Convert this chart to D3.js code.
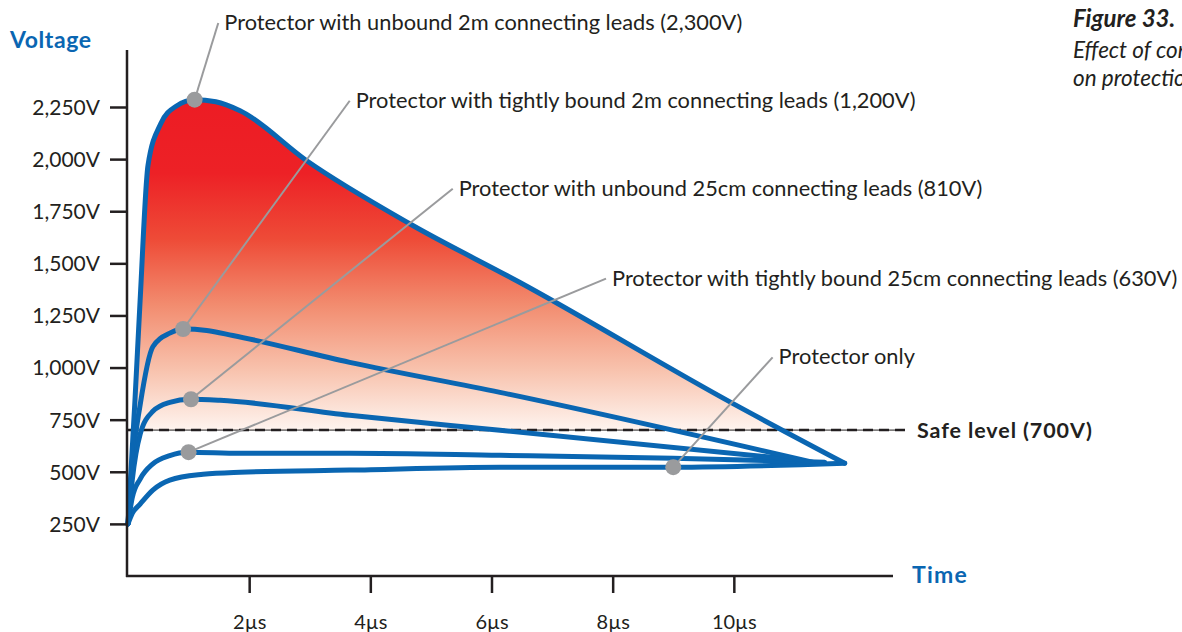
<!DOCTYPE html>
<html>
<head>
<meta charset="utf-8">
<script src="https://cdn.jsdelivr.net/npm/d3@7"></script>
<style>
  body { margin: 0; background: #fff; }
  svg text { font-family: Lato, "Open Sans", sans-serif; fill: #231f20; }
</style>
</head>
<body>
<div id="chart"></div>
<script>
// Values (time in µs, voltage in V)
const unbound2m = [[0, 250], [0.115, 843], [0.2, 1322], [0.33, 1970], [0.54, 2170], [0.8, 2255], [1.1, 2285], [1.45, 2275], [1.85, 2232], [2.95, 1992], [4.65, 1690], [6.47, 1408], [9.98, 828], [11.83, 541]];
const tight2m = [[0, 250], [0.07, 540], [0.2, 820], [0.41, 1100], [0.69, 1165], [0.91, 1185], [1.3, 1178], [1.73, 1154], [3.66, 1025], [6.14, 881], [11.3, 546]];
const unbound25 = [[0, 250], [0.07, 460], [0.2, 680], [0.41, 790], [0.69, 833], [1.02, 848], [1.52, 843], [3.66, 771], [6.14, 699], [11.1, 556]];
const tight25 = [[0, 250], [0.07, 375], [0.2, 465], [0.41, 538], [0.69, 578], [0.99, 594], [1.85, 589], [3.66, 589], [6.14, 579], [9.0, 565], [11.5, 546]];
const protectorOnly = [[0, 250], [0.07, 300], [0.2, 345], [0.41, 412], [0.69, 460], [1.24, 488], [1.85, 498], [3.66, 508], [6.14, 522], [9.0, 522], [11.83, 541]];
const series = [unbound2m, tight2m, unbound25, tight25, protectorOnly];

const safeLevel = 700;
const yTicks = [250, 500, 750, 1000, 1250, 1500, 1750, 2000, 2250];
const xTicks = [2, 4, 6, 8, 10];

// annotation: dot on the curve, end of leader, label
const notes = [
  { dot: [1.1, 2285], end: [1.49, 2653], text: "Protector with unbound 2m connecting leads (2,300V)" },
  { dot: [0.91, 1185], end: [3.66, 2280], text: "Protector with tightly bound 2m connecting leads (1,200V)" },
  { dot: [1.04, 848], end: [5.36, 1858], text: "Protector with unbound 25cm connecting leads (810V)" },
  { dot: [1.0, 594], end: [7.89, 1427], text: "Protector with tightly bound 25cm connecting leads (630V)" },
  { dot: [9.0, 522], end: [10.64, 1049], text: "Protector only" }
];

const width = 1182;
const height = 632;
const blue = "#0a66b2";

const x = d3.scaleLinear().domain([0, 12]).range([128, 855]);
const y = d3.scaleLinear().domain([0, 2250]).range([576, 107]);

const svg = d3.select("#chart")
  .append("svg")
  .attr("width", width)
  .attr("height", height)
  .attr("viewBox", [0, 0, width, height]);

// gradient fill above safe level
const defs = svg.append("defs");
const grad = defs.append("linearGradient")
  .attr("id", "redfade")
  .attr("gradientUnits", "userSpaceOnUse")
  .attr("x1", 0).attr("x2", 0)
  .attr("y1", y(2280)).attr("y2", y(safeLevel));
[[0, "#ed1c24"], [0.22, "#ed2126"], [0.42, "#ee4b37"], [0.62, "#f28c6f"], [0.82, "#f8c3ae"], [1, "#fef4ef"]]
  .forEach(([o, c]) => grad.append("stop").attr("offset", o).attr("stop-color", c));

defs.append("clipPath").attr("id", "aboveSafe")
  .append("rect")
  .attr("x", 0).attr("y", 0)
  .attr("width", width).attr("height", y(safeLevel));

const area = d3.area()
  .x(d => x(d[0]))
  .y0(y(safeLevel))
  .y1(d => y(d[1]))
  .curve(d3.curveMonotoneX);

svg.append("path")
  .datum(unbound2m)
  .attr("clip-path", "url(#aboveSafe)")
  .attr("fill", "url(#redfade)")
  .attr("d", area);

// safe level line
svg.append("line")
  .attr("x1", 127).attr("x2", 905)
  .attr("y1", y(safeLevel)).attr("y2", y(safeLevel))
  .attr("stroke", "#231f20").attr("stroke-width", 1);
svg.append("line")
  .attr("x1", 127).attr("x2", 905)
  .attr("y1", y(safeLevel)).attr("y2", y(safeLevel))
  .attr("stroke", "#231f20").attr("stroke-width", 2.5)
  .attr("stroke-dasharray", "10,6");
svg.append("text")
  .attr("x", 917).attr("y", y(safeLevel) + 8)
  .style("font-size", "21.5px").style("font-weight", "bold")
  .style("letter-spacing", "0.9px")
  .text("Safe level (700V)");

// curves
const line = d3.line()
  .x(d => x(d[0]))
  .y(d => y(d[1]))
  .curve(d3.curveMonotoneX);

svg.append("g")
  .attr("fill", "none")
  .attr("stroke", blue)
  .attr("stroke-width", 5)
  .attr("stroke-linejoin", "round")
  .attr("stroke-linecap", "round")
  .selectAll("path")
  .data(series.slice().reverse())
  .join("path")
  .attr("d", line);

// axes
const axisColor = "#231f20";
svg.append("line")
  .attr("x1", 127).attr("x2", 127)
  .attr("y1", 50).attr("y2", 577)
  .attr("stroke", axisColor).attr("stroke-width", 2.5);
svg.append("line")
  .attr("x1", 126).attr("x2", 893)
  .attr("y1", 576).attr("y2", 576)
  .attr("stroke", axisColor).attr("stroke-width", 2.5);

const yAxis = svg.append("g")
  .attr("transform", "translate(127,0)")
  .call(d3.axisLeft(y).tickValues(yTicks).tickSize(17).tickPadding(10)
    .tickFormat(d => d3.format(",")(d) + "V"));
yAxis.select(".domain").remove();
yAxis.selectAll(".tick line").attr("stroke", axisColor).attr("stroke-width", 2.5);
yAxis.selectAll(".tick text")
  .attr("dy", "0.35em")
  .style("font-size", "21px")
  .style("font-family", "Lato, sans-serif")
  .attr("fill", axisColor);

const xAxis = svg.append("g")
  .attr("transform", "translate(0,576)")
  .call(d3.axisBottom(x).tickValues(xTicks).tickSize(17).tickPadding(22)
    .tickFormat(d => d + "µs"));
xAxis.select(".domain").remove();
xAxis.selectAll(".tick line").attr("stroke", axisColor).attr("stroke-width", 2.5);
xAxis.selectAll(".tick text")
  .style("font-size", "20px")
  .style("font-family", "Lato, sans-serif")
  .attr("fill", axisColor);

svg.append("text")
  .attr("x", 10).attr("y", 48)
  .style("font-size", "23px").style("font-weight", "bold")
  .style("letter-spacing", "0.6px")
  .style("fill", blue)
  .text("Voltage");
svg.append("text")
  .attr("x", 912).attr("y", 583)
  .style("font-size", "23px").style("font-weight", "bold")
  .style("letter-spacing", "1.2px")
  .style("fill", blue)
  .text("Time");

// annotations
const ann = svg.append("g");
ann.selectAll("line")
  .data(notes)
  .join("line")
  .attr("x1", d => x(d.dot[0])).attr("y1", d => y(d.dot[1]))
  .attr("x2", d => x(d.end[0])).attr("y2", d => y(d.end[1]))
  .attr("stroke", "#9a9b9d").attr("stroke-width", 2);
ann.selectAll("circle")
  .data(notes)
  .join("circle")
  .attr("cx", d => x(d.dot[0])).attr("cy", d => y(d.dot[1]))
  .attr("r", 8)
  .attr("fill", "#9a9b9d");
ann.selectAll("text")
  .data(notes)
  .join("text")
  .attr("x", d => x(d.end[0]) + 6)
  .attr("y", d => y(d.end[1]) + 7)
  .style("font-size", "21.8px")
  .text(d => d.text);

// figure caption, cut by the page edge as in the source
const cap = svg.append("g").attr("transform", "translate(1073,0)");
cap.append("text").attr("y", 27)
  .style("font-size", "24px").style("font-weight", "bold").style("font-style", "italic")
  .text("Figure 33.");
cap.append("text").attr("y", 58)
  .style("font-size", "22.5px").style("font-style", "italic")
  .text("Effect of connecting leads");
cap.append("text").attr("y", 86)
  .style("font-size", "22.5px").style("font-style", "italic")
  .text("on protection level");
</script>
</body>
</html>
